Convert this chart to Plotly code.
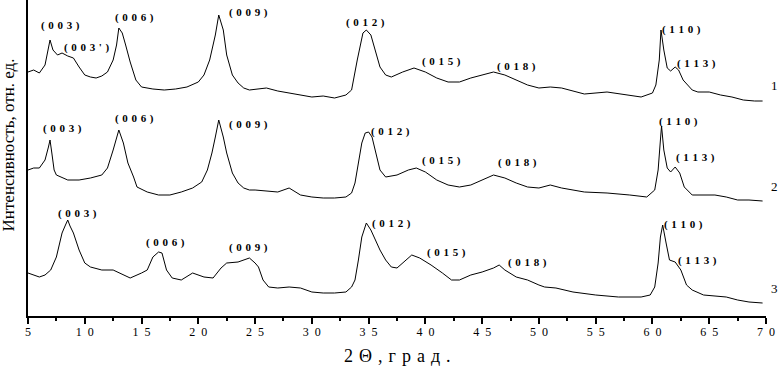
import plotly.graph_objects as go

# ---- data (2θ in degrees, intensity in arbitrary units, curves already offset) ----
theta1 = [5.0, 5.5, 6.0, 6.5, 6.94, 7.2, 7.6, 8.0, 8.5, 9.0, 9.5, 10.0, 10.5, 11.0, 11.5, 12.0, 12.5, 12.8,
          13.0, 13.3, 13.6, 14.0, 14.5, 15.0, 16.0, 17.0, 18.0, 19.0, 20.0, 20.5, 21.0, 21.5, 21.8, 22.2,
          22.5, 23.0, 23.5, 24.0, 24.5, 26.0, 27.0, 28.0, 29.0, 30.0, 31.0, 32.0, 33.0, 33.5, 34.0, 34.5,
          34.8, 35.2, 35.5, 36.0, 36.5, 37.0, 38.0, 39.0, 40.0, 41.0, 42.0, 43.0, 44.0, 45.0, 46.0, 47.0,
          48.0, 49.0, 50.0, 51.0, 52.0, 54.0, 56.0, 58.0, 59.0, 60.0, 60.3, 60.6, 60.75, 61.0, 61.3, 61.6,
          62.0, 62.3, 62.7, 63.5, 64.0, 65.0, 66.0, 67.0, 68.0, 69.0, 69.7]
int1 = [244, 246, 243, 251, 276, 266, 261, 263, 260, 258, 249, 241, 239, 238, 240, 244, 256, 271,
        288, 283, 271, 254, 236, 229, 227, 226, 227, 229, 234, 241, 256, 281, 301, 286,
        261, 241, 233, 228, 226, 228, 225, 223, 221, 219, 220, 218, 221, 226, 256, 283,
        286, 281, 269, 249, 241, 239, 244, 248, 244, 238, 234, 234, 238, 241, 244, 241,
        236, 231, 228, 229, 228, 222, 224, 221, 219, 223, 231, 256, 286, 266, 248, 245,
        249, 246, 236, 226, 224, 224, 221, 219, 216, 215, 215]

theta2 = [5.0, 5.5, 6.0, 6.5, 6.8, 6.94, 7.1, 7.3, 7.5, 8.5, 9.5, 10.5, 11.5, 12.0, 12.5, 13.0, 13.4, 13.8,
          14.3, 14.6, 15.5, 16.5, 17.5, 18.5, 19.5, 20.3, 20.8, 21.2, 21.5, 21.8, 22.2, 22.5, 23.0, 23.5,
          24.0, 24.5, 25.0, 27.0, 28.0, 29.0, 30.0, 31.0, 32.0, 33.0, 33.5, 33.8, 34.1, 34.4, 34.7, 35.0,
          35.3, 35.6, 36.0, 36.5, 37.5, 38.5, 39.2, 40.0, 41.0, 42.0, 43.0, 44.0, 45.0, 46.0, 47.0, 48.0,
          49.0, 50.0, 51.0, 52.0, 54.0, 56.0, 58.0, 59.5, 60.2, 60.5, 60.7, 60.8, 61.0, 61.3, 61.6, 62.0,
          62.4, 62.8, 63.5, 64.5, 65.5, 66.5, 67.5, 68.5, 69.7]
int2 = [146, 148, 148, 156, 169, 176, 163, 146, 141, 136, 136, 138, 141, 148, 166, 186, 173, 153,
        139, 129, 124, 121, 121, 124, 128, 134, 146, 163, 179, 196, 179, 163, 143, 133,
        128, 126, 126, 124, 128, 121, 119, 118, 118, 119, 123, 133, 153, 173, 183, 184,
        179, 166, 146, 139, 141, 146, 148, 144, 136, 131, 129, 131, 136, 141, 138, 133,
        129, 128, 131, 128, 124, 123, 121, 119, 126, 146, 176, 190, 166, 148, 144, 149,
        143, 129, 121, 121, 121, 119, 116, 116, 115]

theta3 = [5.0, 5.5, 6.0, 6.5, 7.0, 7.5, 8.0, 8.3, 8.5, 8.7, 9.0, 9.5, 10.0, 10.5, 11.5, 12.5, 13.5, 14.0,
          15.0, 15.5, 16.0, 16.5, 16.8, 17.2, 17.7, 18.5, 19.5, 20.5, 21.3, 22.0, 22.5, 23.5, 24.5, 25.0,
          25.3, 25.7, 26.2, 27.0, 28.0, 29.0, 30.0, 31.0, 32.0, 33.0, 33.5, 33.8, 34.1, 34.4, 34.8, 35.2,
          35.6, 36.0, 36.5, 37.0, 37.5, 38.0, 38.8, 39.5, 40.5, 41.5, 42.3, 43.0, 44.0, 45.0, 46.0, 46.5,
          47.0, 48.0, 49.0, 50.0, 50.5, 51.5, 53.0, 55.0, 57.0, 59.0, 59.8, 60.2, 60.5, 60.7, 60.9, 61.2,
          61.5, 62.0, 62.5, 63.0, 63.5, 64.5, 65.5, 66.5, 67.5, 68.5, 69.7]
int3 = [43, 41, 39, 41, 46, 59, 83, 91, 96, 90, 83, 66, 53, 49, 46, 46, 41, 38,
        43, 46, 59, 64, 63, 46, 38, 36, 43, 39, 38, 48, 53, 54, 58, 53,
        49, 36, 29, 28, 29, 28, 24, 23, 23, 24, 29, 36, 56, 79, 93, 86,
        76, 66, 56, 49, 48, 53, 61, 58, 51, 43, 36, 36, 41, 44, 48, 51,
        46, 39, 36, 31, 29, 28, 24, 21, 19, 19, 21, 29, 53, 79, 91, 73,
        56, 54, 46, 31, 26, 21, 20, 19, 16, 14, 13]

# peak labels: (hkl, 2θ, intensity)
labels = [
    ("(003)", 7.9, 291), ("(003')", 10.2, 269), ("(006)", 14.4, 299),
    ("(009)", 24.4, 304), ("(012)", 34.7, 294), ("(015)", 41.4, 255),
    ("(018)", 48.0, 250), ("(110)", 62.6, 287), ("(113)", 63.9, 253),
    ("(003)", 8.0, 188), ("(006)", 14.4, 198), ("(009)", 24.4, 192),
    ("(012)", 36.9, 185), ("(015)", 41.4, 156), ("(018)", 48.1, 154),
    ("(110)", 62.3, 195), ("(113)", 63.8, 159),
    ("(003)", 9.4, 103), ("(006)", 17.1, 74), ("(009)", 24.4, 69),
    ("(012)", 37.0, 93), ("(015)", 41.9, 64), ("(018)", 49.0, 54),
    ("(110)", 62.7, 92), ("(113)", 64.0, 56),
]
curve_ids = [("1", 231), ("2", 130), ("3", 28)]

tick_vals = [5, 10, 15, 20, 25, 30, 35, 40, 45, 50, 55, 60, 65, 70]
x_title = "2Θ,град."
y_title = "Интенсивность, отн. ед."

SERIF = "Liberation Serif, Times New Roman, serif"
SP = "\u2004"


def spaced(s, sep=SP):
    return sep.join(list(s))


fig = go.Figure()
for th, it in [(theta1, int1), (theta2, int2), (theta3, int3)]:
    fig.add_trace(go.Scatter(x=th, y=it, mode="lines",
                             line=dict(color="black", width=1), showlegend=False))

ann = []
for txt, x, y in labels:
    ann.append(dict(x=x, y=y, xref="x", yref="y", text="<b>" + spaced(txt) + "</b>", showarrow=False,
                    font=dict(family=SERIF, size=11, color="black")))
for txt, y in curve_ids:
    ann.append(dict(x=1.012, y=y, xref="paper", yref="y", text=txt, showarrow=False,
                    xanchor="center", yanchor="middle",
                    font=dict(family=SERIF, size=13, color="black")))
ann.append(dict(x=0.5, y=-0.127, xref="paper", yref="paper", text=spaced(x_title),
                xanchor="center", yanchor="middle",
                showarrow=False, font=dict(family=SERIF, size=18, color="black")))
ann.append(dict(x=-0.027, y=0.54, xref="paper", yref="paper", text=y_title,
                xanchor="center", yanchor="middle",
                textangle=-90, showarrow=False, font=dict(family=SERIF, size=17, color="black")))

fig.update_layout(
    width=778, height=371,
    margin=dict(l=28, r=12, t=0, b=55),
    paper_bgcolor="white", plot_bgcolor="white",
    annotations=ann,
    xaxis=dict(range=[5, 70], showgrid=False, zeroline=False, showline=True, linecolor="black",
               linewidth=2, ticks="outside", ticklen=6, tickwidth=2, tickcolor="black",
               tickvals=tick_vals, ticktext=[spaced(str(v), "\u2002") for v in tick_vals],
               tickfont=dict(family=SERIF, size=12, color="black"), ticklabelstandoff=-2,
               minor=dict(dtick=2.5, tick0=5, ticks="outside", ticklen=3, tickwidth=1.5, tickcolor="black")),
    yaxis=dict(range=[0, 316], showgrid=False, zeroline=False, showline=True, linecolor="black",
               linewidth=2, ticks="", showticklabels=False),
)

fig.write_html("out.html", config={"displayModeBar": False},
               post_script="document.body.style.margin='0';document.body.style.overflow='hidden';")
